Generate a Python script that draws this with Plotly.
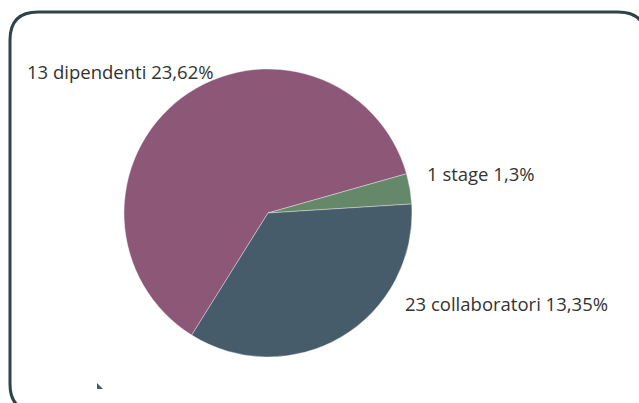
import plotly.graph_objects as go

# Staff composition
categorie = ["dipendenti", "stage", "collaboratori"]
persone = [13, 1, 23]
percentuali = [23.62, 1.3, 13.35]
colori = ["#8d5877", "#66886a", "#475c6a"]

W, H = 639, 403

def etichetta(i):
    pct = f"{percentuali[i]:g}".replace(".", ",")
    return f"{persone[i]} {categorie[i]} {pct}%"

fig = go.Figure()

# pie centred at (268, 213) px with radius 144 px
cx, cy, r = 268, 213, 144
fig.add_trace(go.Pie(
    labels=categorie,
    values=percentuali,
    sort=False,
    direction="clockwise",
    rotation=212,
    marker=dict(colors=colori, line=dict(color="rgba(255,255,255,0.6)", width=0.6)),
    textinfo="none",
    hoverinfo="label+value",
    showlegend=False,
    domain=dict(x=[(cx - r) / W, (cx + r) / W],
                y=[(H - cy - r) / H, (H - cy + r) / H]),
))

# label positions (px)
pos = [(25, 71), (425, 173), (403, 303)]
annotations = []
for i, (x, y) in enumerate(pos):
    annotations.append(dict(
        x=x, y=y, xref="x", yref="y", text=etichetta(i), showarrow=False,
        xanchor="left", yanchor="middle",
        font=dict(family="Open Sans", size=18.5, color="#333333"),
    ))

# rounded frame
x0, y0, x1, y1, rr = 10, 12, 646, 412, 28
frame = (f"M {x0+rr},{y0} L {x1-rr},{y0} Q {x1},{y0} {x1},{y0+rr} "
         f"L {x1},{y1-rr} Q {x1},{y1} {x1-rr},{y1} L {x0+rr},{y1} "
         f"Q {x0},{y1} {x0},{y1-rr} L {x0},{y0+rr} Q {x0},{y0} {x0+rr},{y0} Z")

shapes = [
    dict(type="path", path=frame, xref="x", yref="y",
         line=dict(color="#2f4449", width=3), fillcolor="rgba(0,0,0,0)", layer="below"),
    dict(type="path", path="M 97,383 L 97,389 L 103,389 Z", xref="x", yref="y",
         line=dict(width=0), fillcolor="#475c6a"),
]

fig.update_layout(
    width=W, height=H,
    margin=dict(l=0, r=0, t=0, b=0),
    paper_bgcolor="white", plot_bgcolor="rgba(0,0,0,0)",
    xaxis=dict(range=[0, W], visible=False, fixedrange=True),
    yaxis=dict(range=[H, 0], visible=False, fixedrange=True),
    annotations=annotations,
    shapes=shapes,
)

fig.write_html("out.html")
